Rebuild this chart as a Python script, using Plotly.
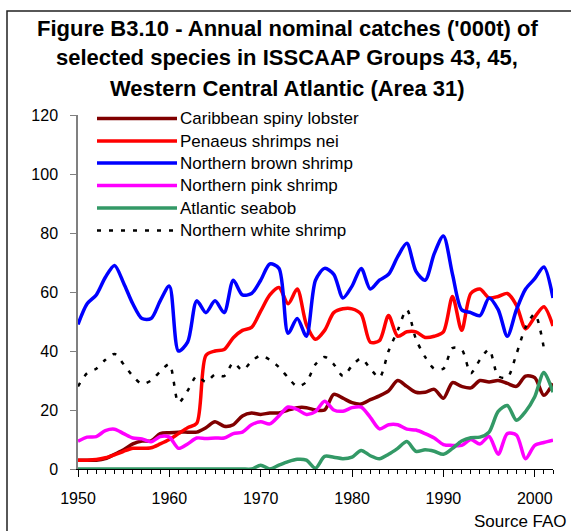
import plotly.graph_objects as go

# Annual nominal catches ('000 t), Western Central Atlantic (Area 31)
years = list(range(1950, 2003))

caribbean_spiny_lobster = [
    3.0, 3.0, 3.0, 3.5, 5.0, 6.5, 8.5, 9.5, 9.5, 12.0,
    12.3, 12.5, 12.5, 12.5, 14.0, 16.0, 14.5, 15.0, 18.0, 19.0,
    18.5, 19.0, 19.0, 20.0, 20.8, 20.8, 20.0, 20.0, 25.3, 24.0,
    22.5, 22.0, 23.5, 24.8, 26.5, 30.0, 28.0, 26.0, 26.0, 27.0,
    24.0, 29.3, 28.0, 27.5, 30.0, 29.5, 30.0, 29.0, 28.0, 31.5,
    31.0, 25.0, 29.0,
]

penaeus_shrimps_nei = [
    3.0, 3.0, 3.2, 3.8, 4.8, 6.0, 7.0, 7.0, 7.2, 8.5,
    10.0, 12.0, 14.0, 15.5, 38.5, 40.0, 40.5, 44.5, 47.0, 48.0,
    53.5, 59.0, 61.5, 56.0, 61.0, 49.0, 44.0, 47.0, 53.0, 54.3,
    54.3, 52.5, 43.0, 43.5, 52.0, 45.0, 46.5, 46.5, 44.6, 45.0,
    46.5, 58.5, 47.0, 59.5, 61.0, 58.0, 58.5, 59.5, 55.5, 47.5,
    51.5, 55.0, 48.5,
]

northern_brown_shrimp = [
    49.0, 56.0, 59.0, 65.0, 69.0, 63.0, 56.0, 51.0, 51.0, 57.0,
    62.0, 40.0, 43.0, 57.0, 53.0, 57.0, 53.0, 64.0, 59.0, 59.5,
    64.0, 69.5, 68.0, 46.0, 51.0, 45.0, 64.0, 68.0, 66.0, 58.0,
    62.0, 68.0, 61.0, 64.0, 66.0, 72.0, 76.5, 67.0, 64.0, 73.0,
    79.0, 66.0, 54.0, 53.0, 52.0, 58.0, 54.0, 45.0, 54.0, 61.0,
    64.5, 68.5, 58.0,
]

northern_pink_shrimp = [
    9.4, 10.8, 11.0, 13.0, 13.5, 12.0, 10.5, 10.2, 9.2, 11.0,
    10.8, 7.0, 8.5, 10.5, 10.3, 10.5, 10.5, 12.0, 12.5, 15.0,
    16.0, 15.3, 18.0, 21.0, 20.2, 18.5, 19.5, 23.0, 20.0, 19.6,
    20.8, 21.0, 17.5, 13.6, 15.0, 15.0, 13.5, 13.2, 12.0, 10.5,
    8.3, 8.0, 8.0, 10.0, 8.5, 11.0, 5.0, 12.0, 11.5, 3.5,
    8.0, 9.0, 9.8,
]

atlantic_seabob = [
    0, 0, 0, 0, 0, 0, 0, 0, 0, 0,
    0, 0, 0, 0, 0, 0, 0, 0, 0, 0,
    1.3, 0.0, 1.3, 2.5, 3.3, 3.0, 0.3, 4.3, 4.0, 3.5,
    4.0, 6.3, 4.5, 3.5, 5.0, 7.0, 9.3, 6.0, 6.5, 6.0,
    5.0, 7.0, 9.5, 10.6, 10.8, 12.5, 19.5, 21.5, 16.5, 19.5,
    24.5, 32.7, 26.0,
]

northern_white_shrimp = [
    28.0, 32.5, 34.0, 37.0, 39.0, 35.5, 31.5, 28.8, 30.0, 33.0,
    35.5, 22.5, 26.5, 31.5, 29.5, 32.0, 31.5, 36.0, 33.5, 36.5,
    38.5, 37.0, 34.5, 31.0, 28.0, 29.5, 35.5, 38.0, 35.5, 31.5,
    35.0, 37.5, 34.0, 31.0, 40.0, 47.0, 54.0, 44.0, 38.0, 34.0,
    34.0, 41.0, 40.5, 32.5, 37.0, 40.5, 31.5, 31.0, 39.0, 48.0,
    52.5, 41.0, None,
]

series_names = [
    "Caribbean spiny lobster",
    "Penaeus shrimps nei",
    "Northern brown shrimp",
    "Northern pink shrimp",
    "Atlantic seabob",
    "Northern white shrimp",
]
series_values = [
    caribbean_spiny_lobster,
    penaeus_shrimps_nei,
    northern_brown_shrimp,
    northern_pink_shrimp,
    atlantic_seabob,
    northern_white_shrimp,
]
series_colors = ["#800000", "#FF0000", "#0000FF", "#FF00FF", "#339966", "#000000"]
series_dash = ["solid", "solid", "solid", "solid", "solid", "4px,8px"]
series_width = [3.5, 3.5, 3.5, 3.5, 3.5, 2.5]

title_lines = [
    "Figure B3.10 - Annual nominal catches ('000t) of",
    "selected species in ISSCAAP Groups 43, 45,",
    "Western Central Atlantic (Area 31)",
]
source_text = "Source FAO"

# Page and plot-area geometry (pixels)
W, H = 571, 531
L, R, T, B = 78, 553, 115, 469
FONT = "Arial, Liberation Sans, Helvetica, sans-serif"


def px_x(x):
    return (x - L) / (R - L)


def px_y(y):
    return (B - y) / (B - T)


fig = go.Figure()
for name, vals, col, dash, wd in zip(series_names, series_values, series_colors,
                                     series_dash, series_width):
    fig.add_trace(go.Scatter(
        x=years, y=vals, name=name, mode="lines",
        line=dict(color=col, width=wd, dash=dash, shape="spline", smoothing=0.8),
        connectgaps=False, showlegend=False,
    ))

shapes = []
annotations = []

# Outer chart frame
shapes.append(dict(type="rect", xref="paper", yref="paper",
                   x0=px_x(7), x1=px_x(590), y0=px_y(11), y1=px_y(560),
                   line=dict(color="#202020", width=1.5), layer="below"))

# Legend keys and labels
row_y = [118.5, 141, 163, 185.5, 208, 230.5]
for name, col, dash, wd, ry in zip(series_names, series_colors, series_dash,
                                   series_width, row_y):
    shapes.append(dict(type="line", xref="paper", yref="paper",
                       x0=px_x(97), x1=px_x(177), y0=px_y(ry), y1=px_y(ry),
                       line=dict(color=col, width=wd, dash=dash)))
    annotations.append(dict(text=name, xref="paper", yref="paper",
                            x=px_x(178), y=px_y(ry), xanchor="left", yanchor="middle",
                            showarrow=False, font=dict(family=FONT, size=17, color="black")))

# Title lines
for line, cy in zip(title_lines, [28, 58, 88]):
    annotations.append(dict(text="<b>" + line + "</b>", xref="paper", yref="paper",
                            x=px_x(287), y=px_y(cy), xanchor="center", yanchor="middle",
                            showarrow=False, font=dict(family=FONT, size=22, color="black")))

# Source note
annotations.append(dict(text=source_text, xref="paper", yref="paper",
                        x=px_x(569), y=px_y(521), xanchor="right", yanchor="middle",
                        showarrow=False, font=dict(family=FONT, size=17, color="black")))

fig.update_layout(
    width=W, height=H,
    margin=dict(l=L, r=W - R, t=T, b=H - B, pad=0),
    paper_bgcolor="white", plot_bgcolor="white",
    font=dict(family=FONT, color="black"),
    shapes=shapes, annotations=annotations,
    showlegend=False,
)

fig.update_xaxes(
    range=[1950, 2002], tickmode="linear", tick0=1950, dtick=10,
    showline=True, linecolor="black", linewidth=1.2,
    ticks="outside", ticklen=7, tickcolor="black", tickwidth=1.2,
    minor=dict(tick0=1950, dtick=1, ticks="outside", ticklen=4,
               tickcolor="black", tickwidth=1),
    showgrid=False, zeroline=False,
    tickfont=dict(family=FONT, size=16, color="black"),
    ticklabelstandoff=8,
)
fig.update_yaxes(
    range=[0, 120], tickmode="linear", tick0=0, dtick=20,
    showline=True, linecolor="#808080", linewidth=1.5,
    ticks="outside", ticklen=6, tickcolor="#808080", tickwidth=1.2,
    showgrid=False, zeroline=False,
    tickfont=dict(family=FONT, size=16, color="black"),
    ticklabelstandoff=9,
)

fig.write_html("out.html")
